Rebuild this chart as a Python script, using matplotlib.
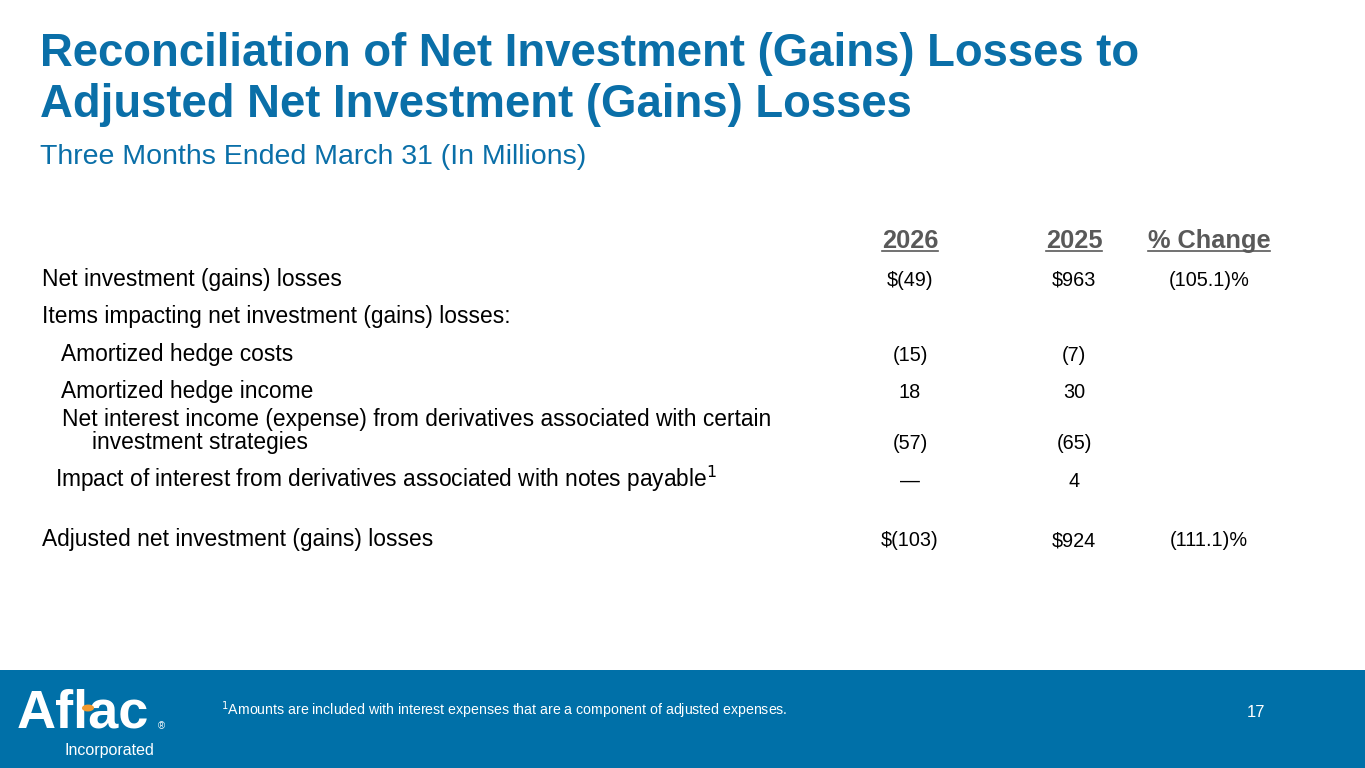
import matplotlib
matplotlib.use("Agg")
import matplotlib.pyplot as plt
from matplotlib.patches import Rectangle, Ellipse
from matplotlib.lines import Line2D

W, H = 1365, 768
BLUE = "#0A6FA8"
BAND = "#0070A8"
GRAY = "#595959"

plt.rcParams['font.family'] = ['Liberation Sans', 'DejaVu Sans']

title_lines = ["Reconciliation of Net Investment (Gains) Losses to",
               "Adjusted Net Investment (Gains) Losses"]
subtitle = "Three Months Ended March 31 (In Millions)"

col_headers = ["2026", "2025", "% Change"]

row_labels = [
    "Net investment (gains) losses",
    "Items impacting net investment (gains) losses:",
    "Amortized hedge costs",
    "Amortized hedge income",
    "Net interest income (expense) from derivatives associated with certain\ninvestment strategies",
    "Impact of interest from derivatives associated with notes payable$^1$",
    "Adjusted net investment (gains) losses",
]
vals_2026 = ["$(49)", "", "(15)", "18", "(57)", "\u2014", "$(103)"]
vals_2025 = ["$963", "", "(7)", "30", "(65)", "4", "$924"]
pct_change = ["(105.1)%", "", "", "", "", "", "(111.1)%"]

footnote = "$^1$Amounts are included with interest expenses that are a component of adjusted expenses."
page_no = "17"

# layout (pixels)
row_y = [286, 323, 361, 398, 449, 487, 546]
row_x = [42, 42, 61, 61, 62, 55, 42]
wrap_x = 92
wrap_gap = 23
col_x = [910, 1074, 1209]
head_y = 248


def fx(x):
    return x / W


def fy(y):
    return 1 - y / H


fig = plt.figure(figsize=(W / 100, H / 100), dpi=100)
fig.patch.set_facecolor("white")

# title block
fig.text(fx(40), fy(66), title_lines[0], color=BLUE, fontsize=32.8, fontweight="bold", va="baseline")
fig.text(fx(40), fy(117), title_lines[1], color=BLUE, fontsize=32.8, fontweight="bold", va="baseline")
fig.text(fx(40), fy(164), subtitle, color=BLUE, fontsize=20.5, va="baseline")

# column headers with underline
heads = []
for x, h in zip(col_x, col_headers):
    t = fig.text(fx(x), fy(head_y), h, color=GRAY, fontsize=18.3, fontweight="bold",
                 ha="center", va="baseline")
    heads.append(t)

# table rows
for i, lab in enumerate(row_labels):
    parts = lab.split("\n")
    fig.text(fx(row_x[i]), fy(row_y[i] - wrap_gap * (len(parts) - 1)), parts[0],
             color="black", fontsize=16.4, va="baseline")
    if len(parts) > 1:
        fig.text(fx(wrap_x), fy(row_y[i]), parts[1], color="black", fontsize=16.4, va="baseline")
    for x, v in zip(col_x, [vals_2026[i], vals_2025[i], pct_change[i]]):
        if v:
            fig.text(fx(x), fy(row_y[i]), v.replace("$", r"\$"), color="black",
                     fontsize=14.3, ha="center", va="baseline")

# footer band
fig.patches.append(Rectangle((0, 0), 1, fy(670), transform=fig.transFigure,
                             facecolor=BAND, edgecolor="none", zorder=0))
fig.text(fx(17), fy(728), "Aflac", color="white", fontsize=39, fontweight="bold",
         va="baseline", zorder=2)
fig.patches.append(Ellipse((fx(88), fy(708)), 12 / W, 7 / H, angle=-25,
                           transform=fig.transFigure, facecolor="#F29A2E",
                           edgecolor="none", zorder=3))
fig.text(fx(158), fy(729), "\u00ae", color="white", fontsize=7, va="baseline", zorder=2)
fig.text(fx(64), fy(755), "Incorporated", color="white", fontsize=11.5, va="baseline", zorder=2)
fig.text(fx(221), fy(715), footnote, color="white", fontsize=10.2, va="baseline", zorder=2)
fig.text(fx(1265), fy(717), page_no, color="white", fontsize=12, ha="right", va="baseline", zorder=2)

# underline headers using rendered extents
fig.canvas.draw()
r = fig.canvas.get_renderer()
for t in heads:
    bb = t.get_window_extent(renderer=r)
    y = fy(head_y + 2.5)
    fig.lines.append(Line2D([bb.x0 / W, bb.x1 / W], [y, y], transform=fig.transFigure,
                            color=GRAY, linewidth=1.2))

fig.savefig("out.png", dpi=100, facecolor="white")
